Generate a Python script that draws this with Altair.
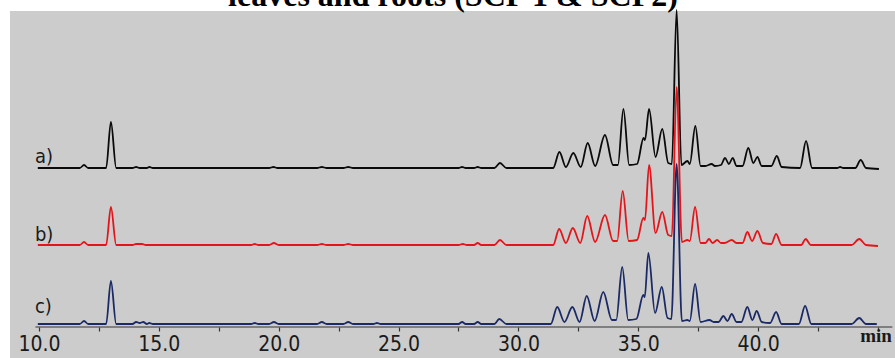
import altair as alt
import pandas as pd

# ---- data (time in min, intensity above each trace's baseline) ----
t_a = [9.95, 11.7, 11.88, 12.05, 12.8, 13.0, 13.22, 13.9, 14.05, 14.2, 14.5, 14.6, 14.75,
       19.6, 19.78, 19.95, 21.6, 21.8, 22.0, 22.7, 22.9, 23.1, 27.5, 27.65, 27.8, 28.15, 28.3, 28.45,
       29.0, 29.23, 29.5, 31.45, 31.71, 31.98, 32.29, 32.6, 32.89, 33.2, 33.61, 33.95, 34.15, 34.38,
       34.62, 34.95, 35.22, 35.28, 35.45, 35.72, 36.0, 36.25, 36.4, 36.6, 36.8, 37.05, 37.15, 37.38,
       37.6, 37.8, 38.06, 38.2, 38.45, 38.62, 38.78, 38.94, 39.1, 39.35, 39.59, 39.8, 39.97, 40.15,
       40.55, 40.78, 40.98, 41.75, 42.0, 42.25, 43.3, 43.42, 43.55, 44.05, 44.28, 44.5, 45.04]
v_a = [0, 0, 3, 0, 0, 46, 0, 0, 1, 0, 0, 1, 0,
       0, 1, 0, 0, 1, 0, 0, 1, 0, 0, 1, 0, 0, 1, 0,
       0, 5, 0, 0, 16, 1, 15, 1, 25, 2, 33, 3, 3, 59,
       3, 4, 30, 28, 59, 11, 39, 5, 4, 158, 3, 7, 4, 42,
       2, 2, 4, 2, 3, 10, 4, 10, 2, 2, 20, 5, 11, 2,
       2, 12, 1, 0, 27, 0, 0, 1, 0, 0, 8, 0, -1]

t_b = [9.95, 11.7, 11.88, 12.05, 12.8, 13.0, 13.22, 13.9, 14.05, 14.3, 14.45, 18.85, 19.0, 19.15,
       19.6, 19.8, 20.0, 21.6, 21.8, 22.0, 22.7, 22.9, 23.1, 27.5, 27.68, 27.85, 28.15, 28.3, 28.45,
       29.0, 29.23, 29.5, 31.45, 31.7, 31.98, 32.27, 32.58, 32.87, 33.2, 33.61, 33.95, 34.12, 34.35,
       34.6, 34.95, 35.21, 35.28, 35.45, 35.72, 36.0, 36.25, 36.4, 36.6, 36.82, 37.05, 37.15, 37.37,
       37.6, 37.8, 37.95, 38.1, 38.29, 38.45, 38.6, 38.9, 39.1, 39.35, 39.55, 39.75, 39.97, 40.2,
       40.55, 40.75, 40.98, 41.8, 41.98, 42.2, 43.9, 44.22, 44.5, 45.0]
v_b = [0, 0, 3, 0, 0, 38, 0, 0, 1, 1, 0, 0, 1, 0,
       0, 2, 0, 0, 1, 0, 0, 1, 0, 0, 1, 0, 0, 2, 0,
       0, 5, 0, 0, 16, 2, 17, 2, 29, 3, 30, 4, 4, 54,
       4, 5, 27, 25, 80, 12, 33, 10, 9, 158, 3, 5, 4, 38,
       2, 2, 6, 2, 5, 2, 2, 5, 2, 2, 13, 4, 14, 2,
       1, 11, 0, 0, 6, 0, 0, 6, 0, -1]

t_c = [9.95, 11.7, 11.88, 12.05, 12.8, 13.0, 13.22, 13.9, 14.05, 14.2, 14.35, 14.5, 14.6, 14.75,
       18.85, 19.0, 19.15, 19.6, 19.8, 20.0, 21.6, 21.8, 22.0, 22.7, 22.9, 23.1, 23.95, 24.1, 24.25,
       27.5, 27.65, 27.8, 28.15, 28.3, 28.45, 29.0, 29.2, 29.5, 31.35, 31.62, 31.92, 32.25, 32.55,
       32.85, 33.18, 33.54, 33.9, 34.08, 34.33, 34.58, 34.92, 35.21, 35.27, 35.42, 35.7, 35.98,
       36.22, 36.38, 36.6, 36.82, 37.05, 37.15, 37.37, 37.6, 37.97, 38.15, 38.35, 38.55, 38.72,
       38.9, 39.1, 39.3, 39.55, 39.76, 39.94, 40.15, 40.5, 40.75, 40.98, 41.7, 41.96, 42.22, 43.9,
       44.22, 44.5, 44.95]
v_c = [0, 0, 3, 0, 0, 43, 0, 0, 2, 1, 2, 0, 1, 0,
       0, 1, 0, 0, 2, 0, 0, 2, 0, 0, 2, 0, 0, 1, 0,
       0, 2, 0, 0, 2, 0, 0, 5, 0, 0, 17, 2, 17, 2,
       28, 3, 32, 4, 4, 57, 4, 5, 29, 27, 71, 11, 37,
       6, 5, 160, 3, 4, 3, 40, 2, 4, 2, 2, 8, 3,
       10, 2, 2, 17, 4, 13, 2, 1, 12, 0, 0, 18, 0, 0,
       6, 0, 0]

trace_names = ["a", "b", "c"]
trace_labels = ["a)", "b)", "c)"]
trace_colors = ["#0a0a0a", "#e3151a", "#1b2a66"]
trace_offsets = [190, 113, 34]          # vertical stacking of the three runs
label_heights = [191, 113, 41]

tick_values = [10, 12.5, 15, 17.5, 20, 22.5, 25, 27.5, 30, 32.5, 35, 37.5, 40, 42.5, 45]
title_text = "leaves and roots (SCF 1 & SCF2)"
unit_text = "min"

# ---- build table ----
rows = []
for name, off, ts, vs in zip(trace_names, trace_offsets, [t_a, t_b, t_c], [v_a, v_b, v_c]):
    for i, (t, v) in enumerate(zip(ts, vs)):
        rows.append({"trace": name, "t": t, "y": v + off, "order": i})
df = pd.DataFrame(rows)
lab_df = pd.DataFrame({"label": trace_labels, "t": [9.83] * 3, "y": label_heights})

xscale = alt.Scale(domain=[8.79, 45.71], nice=False, zero=False)
yscale = alt.Scale(domain=[0, 347], nice=False, zero=False)
FONT = "Liberation Sans Narrow, DejaVu Sans Condensed, Roboto Condensed, sans-serif"

lines = alt.Chart(df).mark_line(strokeWidth=1.8, interpolate="monotone").encode(
    x=alt.X("t:Q", scale=xscale,
            axis=alt.Axis(title=None, values=tick_values, domain=False, grid=False,
                          offset=-31, tickSize=4, tickColor="#333333", tickWidth=1.2,
                          labelExpr="datum.value % 5 == 0 && datum.value < 45 ? format(datum.value, '.1f') : ''",
                          labelFont=FONT, labelFontSize=21, labelColor="#1a1a1a",
                          labelPadding=2, labelFlush=False, labelOverlap=False)),
    y=alt.Y("y:Q", scale=yscale, axis=None),
    color=alt.Color("trace:N", scale=alt.Scale(domain=trace_names, range=trace_colors), legend=None),
    order="order:Q",
)

axis_line = alt.Chart(pd.DataFrame({"x1": [9.85], "x2": [45.6], "y": [31]})).mark_rule(
    color="#333333", strokeWidth=1.2).encode(x="x1:Q", x2="x2:Q", y="y:Q")

labels = alt.Chart(lab_df).mark_text(
    align="left", baseline="bottom", font=FONT, fontSize=20, color="#1a1a1a").encode(
    x="t:Q", y="y:Q", text="label:N")

unit = alt.Chart(pd.DataFrame({"t": [44.92], "y": [16], "s": [unit_text]})).mark_text(
    align="center", baseline="alphabetic", font="Liberation Serif", fontSize=19,
    fontWeight="bold", color="#1a1a1a").encode(x="t:Q", y="y:Q", text="s:N")

# title, partly cut off at the top edge as in the reference
title = alt.Chart(pd.DataFrame({"t": [27.27], "y": [352], "s": [title_text]})).mark_text(
    align="center", baseline="alphabetic", font="Liberation Serif", fontSize=32,
    fontWeight="bold", color="black").encode(x="t:Q", y="y:Q", text="s:N")

chart = alt.layer(lines, axis_line, labels, unit, title).properties(
    width=885, height=347,
    padding={"left": 10, "top": 11, "right": 0, "bottom": 0},
    autosize=alt.AutoSizeParams(type="none"),
    background="white",
).configure_view(fill="#cccccc", strokeWidth=0)

chart.save("out.html", embed_options={"renderer": "svg", "actions": False})
